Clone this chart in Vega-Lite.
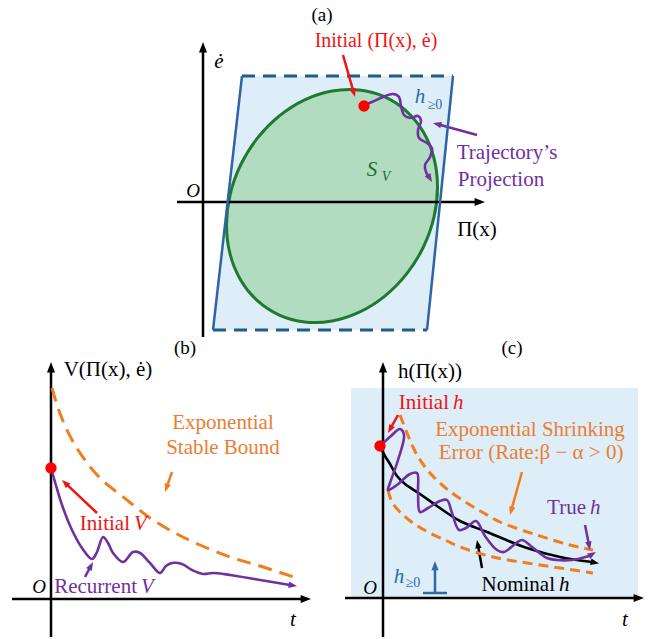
{
"$schema": "https://vega.github.io/schema/vega-lite/v6.json",
"width": 655, "height": 639,
"autosize": {"type": "fit", "contains": "padding"},
"padding": 0,
"background": "white",
"config": {"view": {"stroke": null}, "mark": {"font": "Liberation Serif"}, "text": {"font": "Liberation Serif", "baseline": "middle"}},
"datasets": {
"bg": [{"x": 351, "x2": 638, "y": 388, "y2": 598}],
"para": [{"x": 213, "y": 330, "y2": 330}, {"x": 242, "y": 76, "y2": 330}, {"x": 427, "y": 76, "y2": 330}, {"x": 453, "y": 76, "y2": 76}],
"ell": [
{"i":0,"x":437.5,"y":187},{"i":1,"x":433.9,"y":217.4},{"i":2,"x":423.4,"y":247},{"i":3,"x":406.6,"y":273.9},{"i":4,"x":384.8,"y":296.1},{"i":5,"x":359.3,"y":312.2},{"i":6,"x":332,"y":321},{"i":7,"x":304.7,"y":322},{"i":8,"x":279.3,"y":315.1},{"i":9,"x":257.4,"y":300.7},{"i":10,"x":240.6,"y":279.9},{"i":11,"x":230.1,"y":254.2},{"i":12,"x":226.5,"y":225},{"i":13,"x":230.1,"y":194.6},{"i":14,"x":240.6,"y":165},{"i":15,"x":257.4,"y":138.1},{"i":16,"x":279.3,"y":115.9},{"i":17,"x":304.7,"y":99.8},{"i":18,"x":332,"y":91},{"i":19,"x":359.3,"y":90},{"i":20,"x":384.8,"y":96.9},{"i":21,"x":406.6,"y":111.3},{"i":22,"x":423.4,"y":132.1},{"i":23,"x":433.9,"y":157.9}],
"curves": [
{"g":"A","c":"#7030a0","i":0,"x":364,"y":105},{"g":"A","c":"#7030a0","i":1,"x":372,"y":102},{"g":"A","c":"#7030a0","i":2,"x":383,"y":97},{"g":"A","c":"#7030a0","i":3,"x":393,"y":94},{"g":"A","c":"#7030a0","i":4,"x":399,"y":97},{"g":"A","c":"#7030a0","i":5,"x":401,"y":106},{"g":"A","c":"#7030a0","i":6,"x":404,"y":115},{"g":"A","c":"#7030a0","i":7,"x":410,"y":118},{"g":"A","c":"#7030a0","i":8,"x":418,"y":116},{"g":"A","c":"#7030a0","i":9,"x":421,"y":121},{"g":"A","c":"#7030a0","i":10,"x":418,"y":130},{"g":"A","c":"#7030a0","i":11,"x":419,"y":138},{"g":"A","c":"#7030a0","i":12,"x":427,"y":143},{"g":"A","c":"#7030a0","i":13,"x":432,"y":148},{"g":"A","c":"#7030a0","i":14,"x":430,"y":157},{"g":"A","c":"#7030a0","i":15,"x":425,"y":165},{"g":"A","c":"#7030a0","i":16,"x":426,"y":172},{"g":"A","c":"#7030a0","i":17,"x":429,"y":177},
{"g":"B","c":"#7030a0","i":0,"x":51,"y":468},{"g":"B","c":"#7030a0","i":1,"x":55,"y":482},{"g":"B","c":"#7030a0","i":2,"x":62,"y":505},{"g":"B","c":"#7030a0","i":3,"x":72,"y":530},{"g":"B","c":"#7030a0","i":4,"x":82,"y":548},{"g":"B","c":"#7030a0","i":5,"x":92,"y":559},{"g":"B","c":"#7030a0","i":6,"x":97,"y":552},{"g":"B","c":"#7030a0","i":7,"x":103,"y":537},{"g":"B","c":"#7030a0","i":8,"x":108,"y":543},{"g":"B","c":"#7030a0","i":9,"x":113,"y":553},{"g":"B","c":"#7030a0","i":10,"x":123,"y":562},{"g":"B","c":"#7030a0","i":11,"x":133,"y":552},{"g":"B","c":"#7030a0","i":12,"x":140,"y":553},{"g":"B","c":"#7030a0","i":13,"x":150,"y":563},{"g":"B","c":"#7030a0","i":14,"x":160,"y":573},{"g":"B","c":"#7030a0","i":15,"x":166,"y":566},{"g":"B","c":"#7030a0","i":16,"x":172,"y":563},{"g":"B","c":"#7030a0","i":17,"x":182,"y":564},{"g":"B","c":"#7030a0","i":18,"x":192,"y":570},{"g":"B","c":"#7030a0","i":19,"x":203,"y":574},{"g":"B","c":"#7030a0","i":20,"x":213,"y":573},{"g":"B","c":"#7030a0","i":21,"x":230,"y":575},{"g":"B","c":"#7030a0","i":22,"x":260,"y":580},{"g":"B","c":"#7030a0","i":23,"x":290,"y":585},
{"g":"C","c":"#000000","i":0,"x":380,"y":446},{"g":"C","c":"#000000","i":1,"x":385,"y":456},{"g":"C","c":"#000000","i":2,"x":390,"y":464},{"g":"C","c":"#000000","i":3,"x":397,"y":476},{"g":"C","c":"#000000","i":4,"x":405,"y":484},{"g":"C","c":"#000000","i":5,"x":420,"y":494},{"g":"C","c":"#000000","i":6,"x":437,"y":506},{"g":"C","c":"#000000","i":7,"x":460,"y":521},{"g":"C","c":"#000000","i":8,"x":487,"y":532},{"g":"C","c":"#000000","i":9,"x":527,"y":548},{"g":"C","c":"#000000","i":10,"x":560,"y":557},{"g":"C","c":"#000000","i":11,"x":592,"y":562},
{"g":"D","c":"#7030a0","i":0,"x":380,"y":446},{"g":"D","c":"#7030a0","i":1,"x":391,"y":436},{"g":"D","c":"#7030a0","i":2,"x":400,"y":429},{"g":"D","c":"#7030a0","i":3,"x":404,"y":435},{"g":"D","c":"#7030a0","i":4,"x":398,"y":460},{"g":"D","c":"#7030a0","i":5,"x":390,"y":483},{"g":"D","c":"#7030a0","i":6,"x":388,"y":490},{"g":"D","c":"#7030a0","i":7,"x":397,"y":485},{"g":"D","c":"#7030a0","i":8,"x":410,"y":474},{"g":"D","c":"#7030a0","i":9,"x":417,"y":473},{"g":"D","c":"#7030a0","i":10,"x":418,"y":493},{"g":"D","c":"#7030a0","i":11,"x":420,"y":512},{"g":"D","c":"#7030a0","i":12,"x":428,"y":508},{"g":"D","c":"#7030a0","i":13,"x":440,"y":501},{"g":"D","c":"#7030a0","i":14,"x":447,"y":500},{"g":"D","c":"#7030a0","i":15,"x":452,"y":513},{"g":"D","c":"#7030a0","i":16,"x":459,"y":530},{"g":"D","c":"#7030a0","i":17,"x":466,"y":528},{"g":"D","c":"#7030a0","i":18,"x":476,"y":521},{"g":"D","c":"#7030a0","i":19,"x":485,"y":536},{"g":"D","c":"#7030a0","i":20,"x":497,"y":550},{"g":"D","c":"#7030a0","i":21,"x":504,"y":552},{"g":"D","c":"#7030a0","i":22,"x":515,"y":544},{"g":"D","c":"#7030a0","i":23,"x":522,"y":540},{"g":"D","c":"#7030a0","i":24,"x":532,"y":547},{"g":"D","c":"#7030a0","i":25,"x":547,"y":558},{"g":"D","c":"#7030a0","i":26,"x":557,"y":560},{"g":"D","c":"#7030a0","i":27,"x":572,"y":560},{"g":"D","c":"#7030a0","i":28,"x":589,"y":556}],
"dashedB": [
{"g":"E","i":0,"x":52,"y":388},{"g":"E","i":1,"x":58,"y":408},{"g":"E","i":2,"x":66,"y":428},{"g":"E","i":3,"x":75,"y":445},{"g":"E","i":4,"x":85,"y":460},{"g":"E","i":5,"x":100,"y":478},{"g":"E","i":6,"x":127,"y":500},{"g":"E","i":7,"x":150,"y":518},{"g":"E","i":8,"x":175,"y":533},{"g":"E","i":9,"x":200,"y":545},{"g":"E","i":10,"x":230,"y":557},{"g":"E","i":11,"x":260,"y":566},{"g":"E","i":12,"x":297,"y":578}],
"dashedC": [
{"g":"F","i":0,"x":400,"y":415},{"g":"F","i":1,"x":407,"y":433},{"g":"F","i":2,"x":417,"y":455},{"g":"F","i":3,"x":430,"y":473},{"g":"F","i":4,"x":448,"y":490},{"g":"F","i":5,"x":467,"y":503},{"g":"F","i":6,"x":482,"y":512},{"g":"F","i":7,"x":500,"y":522},{"g":"F","i":8,"x":537,"y":535},{"g":"F","i":9,"x":570,"y":545},{"g":"F","i":10,"x":593,"y":550},
{"g":"G","i":0,"x":388,"y":490},{"g":"G","i":1,"x":392,"y":502},{"g":"G","i":2,"x":400,"y":512},{"g":"G","i":3,"x":413,"y":523},{"g":"G","i":4,"x":430,"y":533},{"g":"G","i":5,"x":447,"y":541},{"g":"G","i":6,"x":460,"y":547},{"g":"G","i":7,"x":493,"y":557},{"g":"G","i":8,"x":527,"y":563},{"g":"G","i":9,"x":560,"y":568},{"g":"G","i":10,"x":593,"y":573}],
"rules": [
{"x":203,"y":337,"x2":203,"y2":48,"c":"#000000"},{"x":177,"y":202,"x2":479,"y2":202,"c":"#000000"},
{"x":51,"y":637,"x2":51,"y2":368,"c":"#000000"},{"x":12,"y":599,"x2":305,"y2":599,"c":"#000000"},
{"x":383,"y":637,"x2":383,"y2":368,"c":"#000000"},{"x":345,"y":598,"x2":638,"y2":598,"c":"#000000"},
{"x":343,"y":55,"x2":353.6,"y2":92.2,"c":"#f01414"},{"x":477,"y":135,"x2":437.8,"y2":124.3,"c":"#7030a0"},
{"x":97,"y":513,"x2":65.6,"y2":483.4,"c":"#f01414"},{"x":172,"y":472,"x2":166.6,"y2":487.3,"c":"#f07d1e"},
{"x":85,"y":577,"x2":90.6,"y2":566.4,"c":"#7030a0"},{"x":398,"y":415,"x2":390.4,"y2":428.6,"c":"#f01414"},
{"x":522,"y":472,"x2":511.3,"y2":510.2,"c":"#f07d1e"},{"x":585,"y":525,"x2":589,"y2":545.1,"c":"#7030a0"},
{"x":482,"y":568,"x2":477.9,"y2":544.9,"c":"#000000"},{"x":435,"y":593,"x2":435,"y2":567,"c":"#2e6aa8"},
{"x":423,"y":593,"x2":447,"y2":593,"c":"#2e6aa8"},
{"x":242,"y":76,"x2":213,"y2":330,"c":"#2f64a6"},{"x":453,"y":76,"x2":427,"y2":330,"c":"#2f64a6"}],
"drules": [{"x":242,"y":76,"x2":453,"y2":76},{"x":213,"y":330,"x2":427,"y2":330}],
"heads": [
{"x":203,"y":42,"a":0,"c":"#000000","s":64},{"x":485,"y":202,"a":90,"c":"#000000","s":64},
{"x":51,"y":362,"a":0,"c":"#000000","s":64},{"x":311,"y":599,"a":90,"c":"#000000","s":64},
{"x":383,"y":362,"a":0,"c":"#000000","s":64},{"x":644,"y":598,"a":90,"c":"#000000","s":64},
{"x":355,"y":97,"a":164.1,"c":"#f01414","s":42},{"x":433,"y":123,"a":285.3,"c":"#7030a0","s":42},
{"x":62,"y":480,"a":313.3,"c":"#f01414","s":42},{"x":165,"y":492,"a":199.3,"c":"#f07d1e","s":42},
{"x":93,"y":562,"a":28.1,"c":"#7030a0","s":42},{"x":388,"y":433,"a":209.1,"c":"#f01414","s":42},
{"x":510,"y":515,"a":195.6,"c":"#f07d1e","s":42},{"x":590,"y":550,"a":168.7,"c":"#7030a0","s":42},
{"x":477,"y":540,"a":349.9,"c":"#000000","s":42},{"x":435,"y":561,"a":0,"c":"#2e6aa8","s":50},
{"x":432,"y":182,"a":149,"c":"#7030a0","s":42},{"x":297,"y":586,"a":98,"c":"#7030a0","s":42},
{"x":599,"y":563.5,"a":102,"c":"#000000","s":42},{"x":596,"y":552,"a":60,"c":"#7030a0","s":42}],
"dots": [{"x":364,"y":106},{"x":51,"y":468},{"x":380,"y":446}],
"tNormC": [
{"x":322,"y":15,"t":"(a)","c":"#000000","s":19},
{"x":376,"y":41,"t":"Initial (Π(x), ė)","c":"#f01414","s":20},
{"x":477,"y":230,"t":"Π(x)","c":"#000000","s":21},
{"x":185,"y":348,"t":"(b)","c":"#000000","s":19},
{"x":108,"y":370,"t":"V(Π(x), ė)","c":"#000000","s":21},
{"x":223,"y":423,"t":"Exponential","c":"#ed7d31","s":21},
{"x":223,"y":448,"t":"Stable Bound","c":"#ed7d31","s":21},
{"x":512,"y":348,"t":"(c)","c":"#000000","s":19},
{"x":430,"y":372,"t":"h(Π(x))","c":"#000000","s":21},
{"x":530,"y":430,"t":"Exponential Shrinking","c":"#ed7d31","s":21},
{"x":531,"y":453,"t":"Error (Rate:β − α > 0)","c":"#ed7d31","s":21},
{"x":507,"y":153,"t":"Trajectory’s","c":"#7030a0","s":21},
{"x":501,"y":180,"t":"Projection","c":"#7030a0","s":21},
{"x":435,"y":105,"t":"≥0","c":"#2e6aa8","s":14},
{"x":413,"y":583,"t":"≥0","c":"#2e6aa8","s":14}],
"tNormR": [
{"x":130,"y":524,"t":"Initial","c":"#f01414","s":21},
{"x":137,"y":587,"t":"Recurrent","c":"#7030a0","s":21},
{"x":449,"y":403,"t":"Initial","c":"#f01414","s":21},
{"x":586,"y":508,"t":"True","c":"#7030a0","s":21},
{"x":555,"y":585,"t":"Nominal","c":"#000000","s":21}],
"tItalL": [
{"x":134,"y":524,"t":"V","c":"#f01414","s":21},
{"x":141,"y":587,"t":"V","c":"#7030a0","s":21},
{"x":453,"y":403,"t":"h","c":"#f01414","s":21},
{"x":590,"y":508,"t":"h","c":"#7030a0","s":21},
{"x":559,"y":585,"t":"h","c":"#000000","s":21}],
"tItalC": [
{"x":219,"y":62,"t":"ė","c":"#000000","s":21},
{"x":193,"y":191,"t":"O","c":"#000000","s":19},
{"x":372,"y":170,"t":"S","c":"#1e6b30","s":21},
{"x":386,"y":177,"t":"V","c":"#1e6b30","s":14},
{"x":420,"y":97,"t":"h","c":"#2e6aa8","s":21},
{"x":39,"y":587,"t":"O","c":"#000000","s":19},
{"x":293,"y":620,"t":"t","c":"#000000","s":21},
{"x":399,"y":577,"t":"h","c":"#2e6aa8","s":21},
{"x":370,"y":588,"t":"O","c":"#000000","s":19},
{"x":625,"y":620,"t":"t","c":"#000000","s":21}]
},
"encoding": {
"x": {"field": "x", "type": "quantitative", "scale": {"domain": [0, 655], "nice": false, "zero": false}, "axis": null},
"y": {"field": "y", "type": "quantitative", "scale": {"domain": [0, 639], "reverse": true, "nice": false, "zero": false}, "axis": null}
},
"layer": [
{"data": {"name": "bg"}, "mark": {"type": "rect", "fill": "#ddeef8"}, "encoding": {"x2": {"field": "x2"}, "y2": {"field": "y2"}}},
{"data": {"name": "para"}, "mark": {"type": "area", "fill": "#ddeef8", "orient": "vertical"}, "encoding": {"y2": {"field": "y2"}}},
{"data": {"name": "ell"}, "mark": {"type": "line", "interpolate": "cardinal-closed", "fill": "#b2dcc0", "stroke": "#1f7a30", "strokeWidth": 3}, "encoding": {"order": {"field": "i", "type": "quantitative"}}},
{"data": {"name": "drules"}, "mark": {"type": "rule", "stroke": "#1f5d87", "strokeWidth": 2.8, "strokeDash": [13, 8]}, "encoding": {"x2": {"field": "x2"}, "y2": {"field": "y2"}}},
{"data": {"name": "rules"}, "mark": {"type": "rule", "strokeWidth": 2.5}, "encoding": {"x2": {"field": "x2"}, "y2": {"field": "y2"}, "color": {"field": "c", "type": "nominal", "scale": null}}},
{"data": {"name": "dashedB"}, "mark": {"type": "line", "interpolate": "catmull-rom", "stroke": "#f07d1e", "strokeWidth": 3, "strokeDash": [14, 8]}, "encoding": {"detail": {"field": "g"}, "order": {"field": "i", "type": "quantitative"}}},
{"data": {"name": "dashedC"}, "mark": {"type": "line", "interpolate": "catmull-rom", "stroke": "#f07d1e", "strokeWidth": 3, "strokeDash": [10, 6]}, "encoding": {"detail": {"field": "g"}, "order": {"field": "i", "type": "quantitative"}}},
{"data": {"name": "curves"}, "mark": {"type": "line", "interpolate": "catmull-rom", "strokeWidth": 2.6}, "encoding": {"detail": {"field": "g"}, "color": {"field": "c", "type": "nominal", "scale": null}, "order": {"field": "i", "type": "quantitative"}}},
{"data": {"name": "heads"}, "mark": {"type": "point", "filled": true, "opacity": 1, "shape": "M0,0L-1,2.6L1,2.6Z", "strokeWidth": 0}, "encoding": {"angle": {"field": "a", "type": "quantitative", "scale": null}, "color": {"field": "c", "type": "nominal", "scale": null}, "size": {"field": "s", "type": "quantitative", "scale": null}}},
{"data": {"name": "dots"}, "mark": {"type": "circle", "size": 130, "color": "#ff0000", "opacity": 1}},
{"data": {"name": "tNormC"}, "mark": {"type": "text", "align": "center", "baseline": "middle", "font": "Liberation Serif"}, "encoding": {"text": {"field": "t"}, "color": {"field": "c", "type": "nominal", "scale": null}, "size": {"field": "s", "type": "quantitative", "scale": null}}},
{"data": {"name": "tNormR"}, "mark": {"type": "text", "align": "right", "baseline": "middle", "font": "Liberation Serif"}, "encoding": {"text": {"field": "t"}, "color": {"field": "c", "type": "nominal", "scale": null}, "size": {"field": "s", "type": "quantitative", "scale": null}}},
{"data": {"name": "tItalL"}, "mark": {"type": "text", "align": "left", "baseline": "middle", "fontStyle": "italic", "font": "Liberation Serif"}, "encoding": {"text": {"field": "t"}, "color": {"field": "c", "type": "nominal", "scale": null}, "size": {"field": "s", "type": "quantitative", "scale": null}}},
{"data": {"name": "tItalC"}, "mark": {"type": "text", "align": "center", "baseline": "middle", "fontStyle": "italic", "font": "Liberation Serif"}, "encoding": {"text": {"field": "t"}, "color": {"field": "c", "type": "nominal", "scale": null}, "size": {"field": "s", "type": "quantitative", "scale": null}}}
]
}
